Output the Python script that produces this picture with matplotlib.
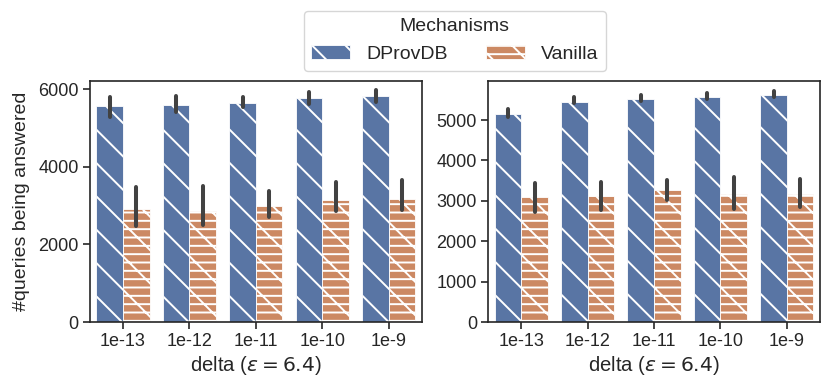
import numpy as np
import matplotlib
matplotlib.use("Agg")
import matplotlib.pyplot as plt
import seaborn as sns

sns.set_style("ticks")
plt.rcParams['font.family'] = ['Liberation Sans', 'DejaVu Sans']
plt.rcParams['hatch.color'] = 'white'
plt.rcParams['hatch.linewidth'] = 0.7

deltas = ['1e-13', '1e-12', '1e-11', '1e-10', '1e-9']
mechanisms = ['DProvDB', 'Vanilla']

# left panel: mean, ci low, ci high
left_dprov = [5570, 5600, 5640, 5770, 5830]
left_dprov_lo = [5280, 5410, 5550, 5620, 5670]
left_dprov_hi = [5810, 5830, 5790, 5940, 5980]
left_van = [2906, 2860, 2990, 3150, 3170]
left_van_lo = [2480, 2500, 2700, 2860, 2900]
left_van_hi = [3470, 3500, 3380, 3610, 3660]

# right panel
right_dprov = [5150, 5455, 5510, 5570, 5610]
right_dprov_lo = [5080, 5415, 5480, 5520, 5565]
right_dprov_hi = [5265, 5560, 5620, 5680, 5725]
right_van = [3090, 3125, 3265, 3165, 3160]
right_van_lo = [2730, 2770, 3020, 2785, 2850]
right_van_hi = [3430, 3470, 3510, 3595, 3540]

deep = sns.color_palette('deep')
colors = [sns.desaturate(deep[0], 0.75), sns.desaturate(deep[1], 0.75)]
hatches = ['\\\\', '\\\\----']

fig = plt.figure(figsize=(4.15, 1.94), dpi=200)
ax1 = fig.add_axes([0.1081, 0.1701, 0.4004, 0.6224])
ax2 = fig.add_axes([0.588, 0.1701, 0.4, 0.6224])

def draw(ax, series, ymax):
    x = np.arange(len(deltas))
    w = 0.4
    handles = []
    for i, (mean, lo, hi) in enumerate(series):
        pos = x + (i - 0.5) * w
        b = ax.bar(pos, mean, w, color=colors[i], edgecolor='white', linewidth=0.3,
                   hatch=hatches[i], label=mechanisms[i])
        handles.append(b)
        ax.vlines(pos, lo, hi, color='#424242', linewidth=1.45, capstyle='round', zorder=3)
    ax.set_xticks(x)
    ax.set_xticklabels(deltas)
    ax.set_xlim(-0.5, len(deltas) - 0.5)
    ax.set_ylim(0, ymax)
    ax.set_xlabel(r'delta ($\epsilon = 6.4$)', fontsize=7.3, labelpad=1.5)
    ax.tick_params(labelsize=6.5, width=0.6, length=2.5, pad=1.5)
    for s in ax.spines.values():
        s.set_linewidth(0.6)
    return handles

h = draw(ax1, [(left_dprov, left_dprov_lo, left_dprov_hi),
               (left_van, left_van_lo, left_van_hi)], 6227)
draw(ax2, [(right_dprov, right_dprov_lo, right_dprov_hi),
           (right_van, right_van_lo, right_van_hi)], 5978)
ax1.set_yticks([0, 2000, 4000, 6000])
ax2.set_yticks([0, 1000, 2000, 3000, 4000, 5000])
ax1.set_ylabel('#queries being answered', fontsize=7, labelpad=3)

leg = fig.legend(h, mechanisms, title='Mechanisms', ncol=2, loc='upper center',
                 bbox_to_anchor=(0.548, 0.9725), fontsize=7, title_fontsize=7,
                 frameon=True, borderaxespad=0)
leg.get_frame().set_linewidth(0.5)

fig.savefig('out.png', dpi=200)
